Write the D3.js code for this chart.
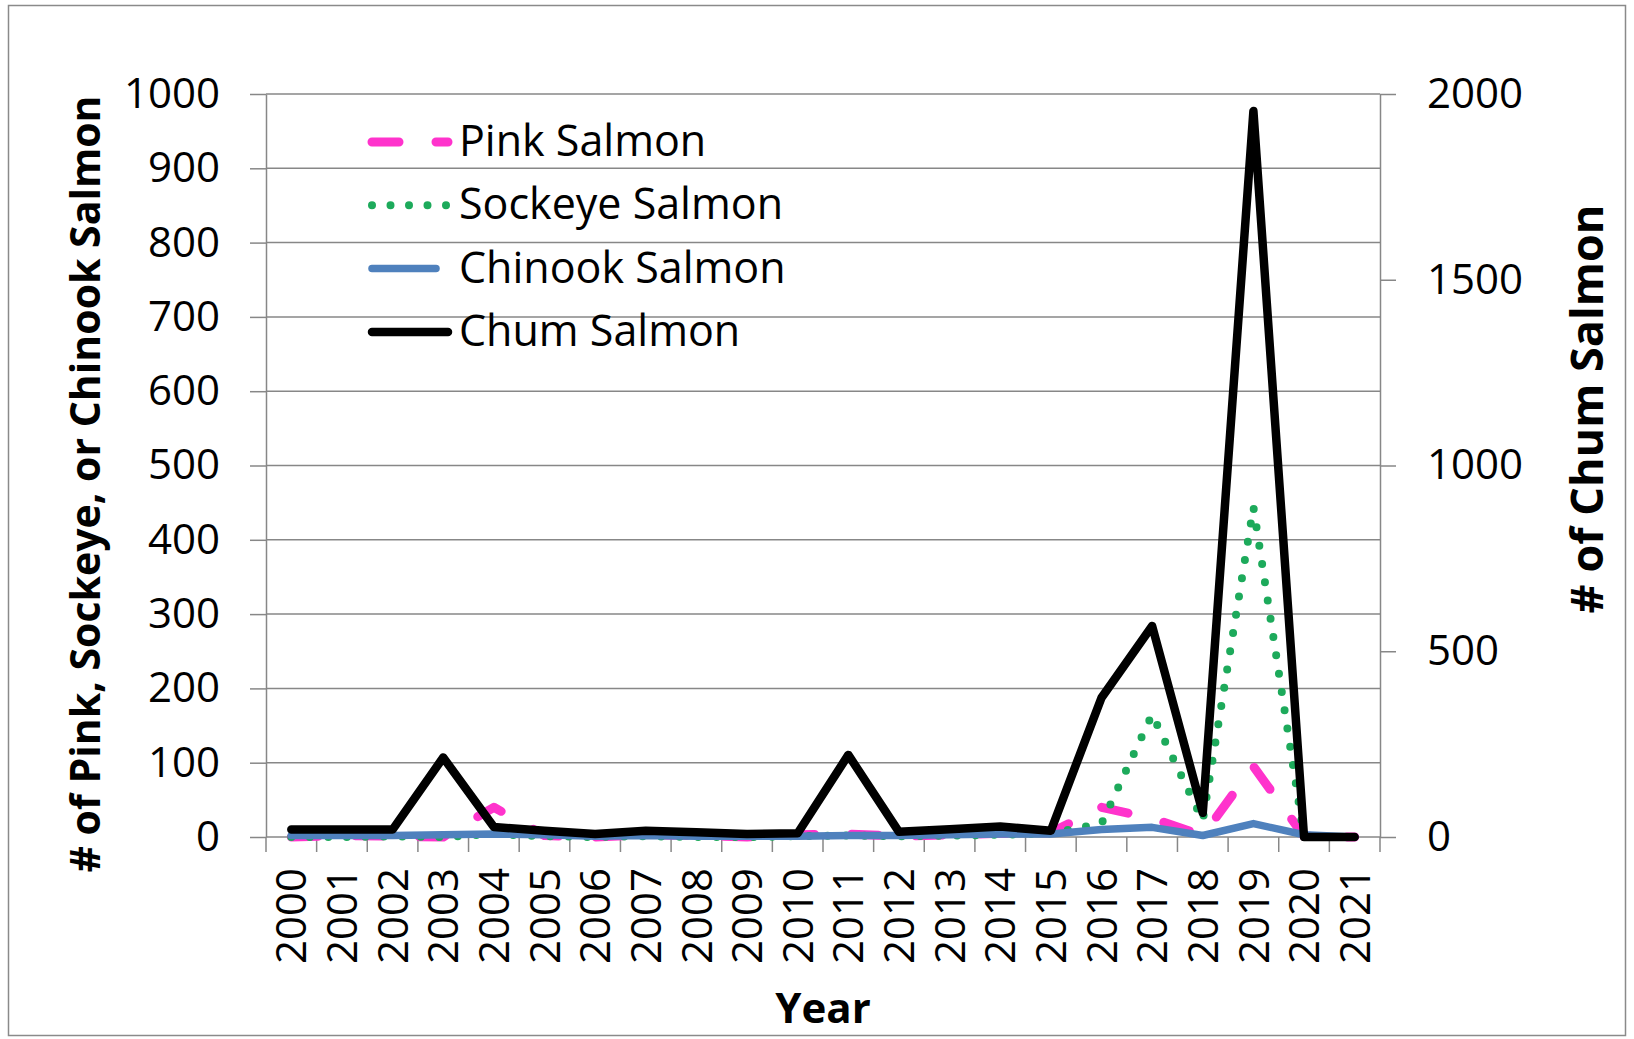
<!DOCTYPE html>
<html>
<head>
<meta charset="utf-8">
<script src="https://cdn.jsdelivr.net/npm/d3@7"></script>
<style>
  body { margin: 0; background: #fff; }
  text { font-family: 'Open Sans', sans-serif; fill: #000; }
</style>
</head>
<body>
<div id="chart"></div>
<script>
// data
const years = ['2000','2001','2002','2003','2004','2005','2006','2007','2008','2009','2010',
               '2011','2012','2013','2014','2015','2016','2017','2018','2019','2020','2021'];
const pinkSalmon    = [0, 2, 1, 0, 40, 2, 0, 3, 2, 0, 3, 4, 1, 3, 5, 6, 40, 25, 2, 95, 1, 0];
const sockeyeSalmon = [0, 0, 1, 0, 4, 1, 0, 1, 0, 0, 1, 2, 1, 2, 3, 5, 18, 165, 22, 444, 0, 0];
const chinookSalmon = [2, 2, 2, 3, 4, 3, 1, 2, 1, 1, 1, 2, 2, 3, 4, 4, 10, 13, 2, 18, 3, 0];
const chumSalmon    = [20, 20, 20, 214, 27, 17, 8, 17, 13, 8, 10, 221, 14, 21, 28, 17, 375, 568, 65, 1954, 0, 0];

const leftTicks = [0, 100, 200, 300, 400, 500, 600, 700, 800, 900, 1000];
const rightTicks = [0, 500, 1000, 1500, 2000];

//build the svg
const svgWidth = 1634;
const svgHeight = 1039;

const margin = {
    top: 94,
    right: 254,
    bottom: 202,
    left: 266
};

const chartWidth = svgWidth - margin.left - margin.right;
const chartHeight = svgHeight - margin.top - margin.bottom;

const gridColor = '#878787';

const svg = d3.select('#chart')
.append('svg')
.attr('width', svgWidth)
.attr('height', svgHeight);

//outer frame
svg.append('rect')
.attr('x', 8.5)
.attr('y', 5.5)
.attr('width', 1617)
.attr('height', 1030)
.attr('fill', 'white')
.attr('stroke', '#8a8a8a')
.attr('stroke-width', 1.5);

const chartGroup = svg.append('g')
.attr('transform', `translate(${margin.left}, ${margin.top})`);

//scales
const xScale = d3.scaleBand()
.domain(years)
.range([0, chartWidth]);

const leftScale = d3.scaleLinear()
.domain([0, 1000])
.range([chartHeight, 0]);

const rightScale = d3.scaleLinear()
.domain([0, 2000])
.range([chartHeight, 0]);

//horizontal gridlines (left axis)
chartGroup.append('g')
.selectAll('line')
.data(leftTicks)
.enter()
.append('line')
.attr('x1', 0)
.attr('x2', chartWidth)
.attr('y1', d => leftScale(d))
.attr('y2', d => leftScale(d))
.attr('stroke', gridColor)
.attr('stroke-width', 1.5);

//left axis
const leftAxis = d3.axisLeft(leftScale)
.tickValues(leftTicks)
.tickFormat(d3.format('d'))
.tickSize(16)
.tickSizeOuter(0)
.tickPadding(30);

const leftG = chartGroup.append('g').call(leftAxis);
leftG.selectAll('line, path').attr('stroke', gridColor).attr('stroke-width', 1.5);
leftG.selectAll('text')
.attr('font-family', 'Open Sans, sans-serif')
.attr('font-size', 42)
.attr('fill', '#000');

//right axis
const rightAxis = d3.axisRight(rightScale)
.tickValues(rightTicks)
.tickFormat(d3.format('d'))
.tickSize(16)
.tickSizeOuter(0)
.tickPadding(31);

const rightG = chartGroup.append('g')
.attr('transform', `translate(${chartWidth}, 0)`)
.call(rightAxis);
rightG.selectAll('line, path').attr('stroke', gridColor).attr('stroke-width', 1.5);
rightG.selectAll('text')
.attr('font-family', 'Open Sans, sans-serif')
.attr('font-size', 42)
.attr('fill', '#000');

//x axis: ticks between categories
chartGroup.append('g')
.selectAll('line')
.data(d3.range(years.length + 1))
.enter()
.append('line')
.attr('x1', i => i * xScale.step())
.attr('x2', i => i * xScale.step())
.attr('y1', chartHeight)
.attr('y2', chartHeight + 15)
.attr('stroke', gridColor)
.attr('stroke-width', 1.5);

chartGroup.append('g')
.selectAll('text')
.data(years)
.enter()
.append('text')
.attr('transform', d => `translate(${xScale(d) + xScale.bandwidth() / 2}, ${chartHeight + 31}) rotate(-90)`)
.attr('text-anchor', 'end')
.attr('dy', '0.36em')
.attr('font-size', 42)
.text(d => d);

//lines
const centerX = (d, i) => xScale(years[i]) + xScale.bandwidth() / 2;

const series = [
    {name: 'Pink Salmon', values: pinkSalmon, scale: leftScale, color: '#FF33CC', width: 9, dash: '27 37'},
    {name: 'Sockeye Salmon', values: sockeyeSalmon, scale: leftScale, color: '#1DAA5B', width: 8, dash: '0 18.5'},
    {name: 'Chinook Salmon', values: chinookSalmon, scale: leftScale, color: '#4F81BD', width: 7.5, dash: null},
    {name: 'Chum Salmon', values: chumSalmon, scale: rightScale, color: '#000000', width: 8.5, dash: null}
];

series.forEach(s => {
    const line = d3.line()
    .x(centerX)
    .y(d => s.scale(d));

    chartGroup.append('path')
    .datum(s.values)
    .attr('d', line)
    .attr('fill', 'none')
    .attr('stroke', s.color)
    .attr('stroke-width', s.width)
    .attr('stroke-linecap', 'round')
    .attr('stroke-linejoin', 'round')
    .attr('stroke-dasharray', s.dash);
});

//legend
const legend = svg.append('g');
series.forEach((s, i) => {
    const ly = 142 + i * 63.3;
    legend.append('line')
    .attr('x1', 372)
    .attr('x2', s.name === 'Chinook Salmon' ? 436 : 448)
    .attr('y1', ly)
    .attr('y2', ly)
    .attr('stroke', s.color)
    .attr('stroke-width', s.width)
    .attr('stroke-linecap', 'round')
    .attr('stroke-dasharray', s.dash);

    legend.append('text')
    .attr('x', 459)
    .attr('y', ly + 14)
    .attr('font-size', 43)
    .text(s.name);
});

//axis titles
svg.append('text')
.attr('transform', 'translate(100, 484) rotate(-90)')
.attr('text-anchor', 'middle')
.attr('font-size', 41)
.attr('font-weight', 'bold')
.text('# of Pink, Sockeye, or Chinook Salmon');

svg.append('text')
.attr('transform', 'translate(1603, 409) rotate(-90)')
.attr('text-anchor', 'middle')
.attr('font-size', 45)
.attr('font-weight', 'bold')
.text('# of Chum Salmon');

svg.append('text')
.attr('x', 823)
.attr('y', 1023)
.attr('text-anchor', 'middle')
.attr('font-size', 42)
.attr('font-weight', 'bold')
.text('Year');
</script>
</body>
</html>
